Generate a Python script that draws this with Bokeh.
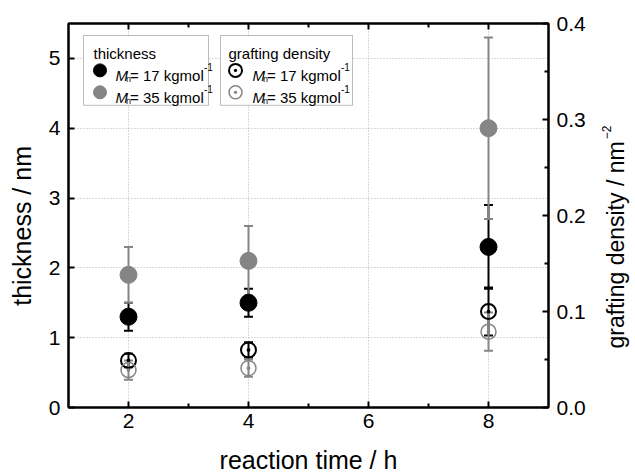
import math
from bokeh.plotting import figure
from bokeh.layouts import row
from bokeh.models import (LinearAxis, Range1d, FixedTicker, PrintfTickFormatter,
                          ColumnDataSource, Whisker, TeeHead, BoxAnnotation, Label)
from bokeh.embed import file_html
from bokeh.resources import INLINE

# ---------------- data ----------------
time_h = [2, 4, 8]
thick_17 = [1.3, 1.5, 2.3]
thick_17_err = [0.2, 0.2, 0.6]
thick_35 = [1.9, 2.1, 4.0]
thick_35_err = [0.4, 0.5, 1.3]
graft_17 = [0.049, 0.060, 0.100]
graft_17_err = [0.007, 0.008, 0.025]
graft_35 = [0.039, 0.041, 0.079]
graft_35_err = [0.010, 0.009, 0.020]

x_ticks = [2, 4, 6, 8]
x_minor = [3, 5, 7]
thick_ticks = [0, 1, 2, 3, 4, 5]
graft_ticks = [0.0, 0.1, 0.2, 0.3, 0.4]
graft_minor = [0.05, 0.15, 0.25, 0.35]

x_label = "reaction time / h"
y_label = "thickness / nm"
y2_label = "grafting density / nm"
y2_label_sup = "\u22122"
legend_titles = ["thickness", "grafting density"]
legend_mn = ["17", "35"]

BLACK = "#000000"
GRAY = "#858585"
FONT = "Liberation Sans"
NBSP = "\u00a0"

X0, X1 = 1, 9
Y0, Y1 = 0, 5.5
G0, G1 = 0, 0.4

W_MAIN, W_SIDE, H = 600, 35, 476
FL, FR, FT, FB = 68, 548, 23, 408

p = figure(width=W_MAIN, height=H, x_range=Range1d(X0, X1), y_range=Range1d(Y0, Y1),
           output_backend="svg", toolbar_location=None,
           min_border_left=FL, min_border_right=W_MAIN - FR, min_border_top=FT,
           min_border_bottom=H - FB)
p.extra_y_ranges = {"gd": Range1d(G0, G1)}
p.background_fill_color = "white"
p.border_fill_color = "white"
p.outline_line_color = "black"
p.outline_line_width = 2


def style_axis(ax):
    ax.axis_line_width = 2
    ax.axis_line_color = "black"
    ax.major_tick_in = 6
    ax.major_tick_out = 0
    ax.minor_tick_in = 4
    ax.minor_tick_out = 0
    ax.major_tick_line_width = 2
    ax.minor_tick_line_width = 2
    ax.major_tick_line_color = "black"
    ax.minor_tick_line_color = "black"
    ax.major_label_text_font = FONT
    ax.major_label_text_font_size = "21px"
    ax.major_label_text_color = "black"
    ax.major_label_standoff = 8
    ax.axis_label_text_font = FONT
    ax.axis_label_text_font_style = "normal"
    ax.axis_label_text_color = "black"


xa = p.xaxis[0]
xa.ticker = FixedTicker(ticks=x_ticks, minor_ticks=x_minor)
style_axis(xa)
xa.major_label_standoff = 6
xa.axis_label = x_label
xa.axis_label_text_font_size = "25px"
xa.axis_label_standoff = 15

ya = p.yaxis[0]
ya.ticker = FixedTicker(ticks=thick_ticks, minor_ticks=[])
style_axis(ya)
ya.axis_label = y_label + NBSP * 3
ya.axis_label_text_font_size = "25px"
ya.axis_label_standoff = 10

ra = LinearAxis(y_range_name="gd", ticker=FixedTicker(ticks=graft_ticks, minor_ticks=graft_minor),
                formatter=PrintfTickFormatter(format="%.1f"))
style_axis(ra)
p.add_layout(ra, "right")

ta = LinearAxis(ticker=FixedTicker(ticks=x_ticks, minor_ticks=x_minor))
style_axis(ta)
ta.major_label_text_font_size = "1px"
ta.major_label_text_alpha = 0
ta.major_label_standoff = 0
p.add_layout(ta, "above")

for g in (p.xgrid[0], p.ygrid[0]):
    g.grid_line_color = "#b4b4b4"
    g.grid_line_dash = "1 2"
    g.grid_line_width = 1
p.xgrid[0].ticker = FixedTicker(ticks=x_ticks)
p.ygrid[0].ticker = FixedTicker(ticks=thick_ticks[1:])


# ---------------- error bars ----------------
def add_err(x, y, err, color, lw, range_name="default"):
    src = ColumnDataSource(dict(x=x, lo=[a - b for a, b in zip(y, err)],
                                hi=[a + b for a, b in zip(y, err)]))
    w = Whisker(base="x", lower="lo", upper="hi", source=src, y_range_name=range_name,
                line_color=color, line_width=lw,
                upper_head=TeeHead(size=9, line_color=color, line_width=lw),
                lower_head=TeeHead(size=9, line_color=color, line_width=lw))
    p.add_layout(w)


add_err(time_h, thick_17, thick_17_err, BLACK, 2)
add_err(time_h, graft_17, graft_17_err, BLACK, 2, "gd")
add_err(time_h, thick_35, thick_35_err, GRAY, 2)
add_err(time_h, graft_35, graft_35_err, GRAY, 2, "gd")

# ---------------- markers ----------------
p.scatter(time_h, thick_17, marker="circle", size=17, fill_color=BLACK, line_color=BLACK)
p.scatter(time_h, thick_35, marker="circle", size=17, fill_color=GRAY, line_color=GRAY)
p.scatter(time_h, graft_17, y_range_name="gd", marker="circle_dot", size=15,
          fill_color=None, line_color=BLACK, line_width=2)
p.scatter(time_h, graft_35, y_range_name="gd", marker="circle_dot", size=15,
          fill_color=None, line_color=GRAY, line_width=1.5)


# ---------------- pixel helpers for the hand-drawn legend ----------------
def sx(px):
    return X0 + (px - FL) * (X1 - X0) / (FR - FL)


def sy(py):
    return Y0 + (FB - py) * (Y1 - Y0) / (FB - FT)


def lab(px, py, text, size, style="normal"):
    p.add_layout(Label(x=sx(px), y=sy(py), text=text, text_font=FONT, text_font_style=style,
                       text_font_size=size, text_align="left", text_baseline="alphabetic",
                       text_color="black"))


boxes = [(83, 208), (220, 352)]
marker_x = [99.5, 235]
text_x = [115, 252]
title_x = [93, 228]
row_y = [70, 92]

for i, (l, r) in enumerate(boxes):
    p.add_layout(BoxAnnotation(left=sx(l), right=sx(r), top=sy(35), bottom=sy(105),
                               fill_color="white", fill_alpha=1.0,
                               line_color="#222222", line_width=1, level="annotation"))
    lab(title_x[i], 53, legend_titles[i], "15px")
    for j, mn in enumerate(legend_mn):
        col = BLACK if j == 0 else GRAY
        if i == 0:
            p.scatter([sx(marker_x[i])], [sy(row_y[j])], marker="circle", size=13,
                      fill_color=col, line_color=col, level="overlay")
        else:
            p.scatter([sx(marker_x[i])], [sy(row_y[j])], marker="circle_dot", size=13,
                      fill_color=None, line_color=col, line_width=2 if j == 0 else 1.5,
                      level="overlay")
        base = row_y[j] + 5
        x0 = text_x[i]
        lab(x0, base, "M", "15px", style="italic")
        lab(x0 + 10.5, base + 4, "n", "9px")
        lab(x0 + 14.5, base, "= " + mn + " kgmol", "15px")
        lab(x0 + 88.5, base - 8, "-1", "10px")

# ---------------- side strip holding the right-axis title (reads bottom-to-top) ----------------
# its frame is aligned with the main frame (rows FT..FB), so the y range spans H-FB .. H-FT
side = figure(width=W_SIDE, height=H, x_range=Range1d(W_MAIN, W_MAIN + W_SIDE),
              y_range=Range1d(H - FB, H - FT), output_backend="svg", toolbar_location=None,
              x_axis_type=None, y_axis_type=None, min_border=0,
              min_border_left=0, min_border_right=0, min_border_top=FT,
              min_border_bottom=H - FB)
side.outline_line_color = None
side.xgrid.visible = False
side.ygrid.visible = False
side.background_fill_color = "white"
side.border_fill_color = "white"
side.add_layout(Label(x=615, y=H - 245, text=y2_label, text_font=FONT, text_font_size="23px",
                      text_align="center", text_baseline="middle", angle=math.pi / 2,
                      text_color="black"))
side.add_layout(Label(x=606, y=H - 139, text=y2_label_sup, text_font=FONT, text_font_size="12px",
                      text_align="left", text_baseline="alphabetic", angle=math.pi / 2,
                      text_color="black"))

layout = row(p, side, spacing=0)
open("out.html", "w").write(file_html(layout, INLINE))
